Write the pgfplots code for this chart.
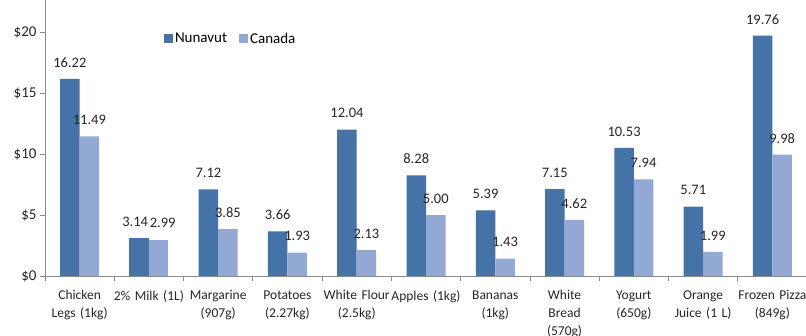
\documentclass[border=0pt]{standalone}
\usepackage{pgfplots}
\pgfplotsset{compat=1.18}
\usepackage{fontspec}
\setmainfont{Carlito}
\definecolor{nun}{HTML}{4572A7}
\definecolor{can}{HTML}{93A9D3}
\definecolor{axgray}{HTML}{8C8C8C}
\begin{document}
\begin{tikzpicture}
\useasboundingbox (-45pt,-60pt) rectangle (761pt,276pt);
\clip (-45pt,-60pt) rectangle (761pt,276pt);
\begin{axis}[
  scale only axis,
  width=762pt, height=276pt,
  at={(0,0)}, anchor=south west,
  ybar=0pt, bar width=19.5pt,
  xmin=-0.5, xmax=10.5,
  ymin=0, ymax=22.7,
  axis x line*=bottom, axis y line*=left,
  axis line style={axgray, line width=0.8pt},
  every tick/.style={axgray, line width=0.8pt},
  tick align=outside,
  xtick={0,...,10},
  major x tick style={draw=none},
  minor xtick={-0.5,0.5,...,10.5},
  minor tick length=5pt,
  ytick={0,5,10,15,20},
  major tick length=5pt,
  /pgf/number format/assume math mode=true,
  yticklabel={\$\pgfmathprintnumber{\tick}},
  yticklabel style={font=\fontsize{15}{17}\selectfont, color=black!85},
  xticklabels={{Chicken\\Legs (1kg)},{2\% Milk (1L)},{Margarine\\(907g)},{Potatoes\\(2.27kg)},{White Flour\\(2.5kg)},{Apples (1kg)},{Bananas\\(1kg)},{White\\Bread\\(570g)},{Yogurt\\(650g)},{Orange\\Juice (1 L)},{Frozen Pizza\\(849g)}},
  xticklabel style={font=\fontsize{13.5}{18}\selectfont, align=center, text width=76pt, color=black!85, yshift=-6pt},
  nodes near coords,
  nodes near coords style={font=\fontsize{14.5}{17}\selectfont, color=black!85, yshift=8pt, /pgf/number format/fixed, /pgf/number format/fixed zerofill, /pgf/number format/precision=2, /pgf/number format/assume math mode=true},
  legend style={at={(0.152,0.86)}, anchor=west, draw=none, fill=none, legend columns=2, font=\fontsize{15}{17}\selectfont, /tikz/every even column/.append style={column sep=10pt}},
  legend image code/.code={\fill[#1] (0pt,-4.5pt) rectangle (9pt,4.5pt);},
]
\addplot[fill=nun, draw=none, bar shift=-9.75pt] coordinates {(0,16.22) (2,7.12) (3,3.66) (4,12.04) (5,8.28) (6,5.39) (7,7.15) (8,10.53) (9,5.71) (10,19.76)};
\addplot[fill=can, draw=none, bar shift=9.75pt] coordinates {(0,11.49) (2,3.85) (3,1.93) (4,2.13) (5,5.00) (6,1.43) (7,4.62) (8,7.94) (9,1.99) (10,9.98)};
\addplot[fill=nun, draw=none, bar shift=-9.75pt, forget plot, every node near coord/.append style={xshift=-4pt}] coordinates {(1,3.14)};
\addplot[fill=can, draw=none, bar shift=9.75pt, forget plot, every node near coord/.append style={xshift=4pt}] coordinates {(1,2.99)};
\legend{Nunavut,Canada}
\end{axis}
\end{tikzpicture}
\end{document}
